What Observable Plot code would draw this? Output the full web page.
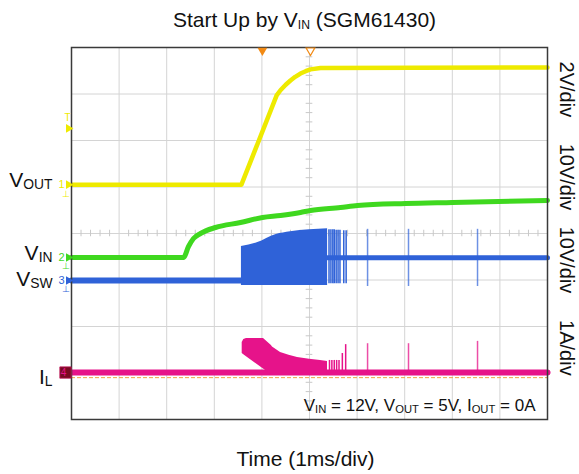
<!DOCTYPE html>
<html>
<head>
<meta charset="utf-8">
<script src="https://cdn.jsdelivr.net/npm/d3@7"></script>
<script src="https://cdn.jsdelivr.net/npm/@observablehq/plot@0.6"></script>
<style>
  html, body { margin: 0; padding: 0; background: #ffffff; }
  #chart { width: 579px; height: 474px; }
</style>
</head>
<body>
<div id="chart"></div>
<script>
// ---------- Grid (divisions) ----------
const xGrid = [1, 2, 3, 4, 5, 6, 7, 8, 9];
const yGrid = [1, 2, 3, 4, 5, 6, 7];
const xMinor = [0.2,0.4,0.6,0.8,1.2,1.4,1.6,1.8,2.2,2.4,2.6,2.8,3.2,3.4,3.6,3.8,4.2,4.4,4.6,4.8,5.2,5.4,5.6,5.8,6.2,6.4,6.6,6.8,7.2,7.4,7.6,7.8,8.2,8.4,8.6,8.8,9.2,9.4,9.6,9.8];
const yMinor = [0.2,0.4,0.6,0.8,1.2,1.4,1.6,1.8,2.2,2.4,2.6,2.8,3.2,3.4,3.6,3.8,4.2,4.4,4.6,4.8,5.2,5.4,5.6,5.8,6.2,6.4,6.6,6.8,7.2,7.4,7.6,7.8];

// ---------- VOUT (yellow, 2V/div) ----------
const voutT = [0, 3.57, 4.31, 4.39, 4.50, 4.60, 4.70, 4.81, 4.92, 5.02, 5.23, 10];
const voutV = [5.05, 5.05, 6.97, 7.08, 7.20, 7.29, 7.37, 7.44, 7.49, 7.53, 7.56, 7.57];

// ---------- VIN (green, 10V/div) ----------
const vinT = [0, 2.353, 2.458, 2.563, 2.710, 3.025, 3.550, 4.013, 4.391, 4.811, 5.021, 5.651, 6.008, 7.017, 8.004, 10];
const vinV = [3.484, 3.484, 3.720, 3.892, 4.000, 4.129, 4.237, 4.344, 4.387, 4.452, 4.495, 4.559, 4.602, 4.645, 4.667, 4.710];

// ---------- VSW (blue, 10V/div) ----------
const swBaseT = [0, 3.57];
const swBaseV = [2.99, 2.99];
const swBandT = [3.57, 3.9, 4.3, 4.6, 5.0, 5.38];
const swBandLow = [2.88, 2.88, 2.88, 2.88, 2.88, 2.88];
const swBandTop = [3.72, 3.80, 3.98, 4.04, 4.08, 4.10];
const swSteadyT = [5.38, 10];
const swSteadyV = [3.48, 3.48];
const swBurstT = [5.41, 5.45, 5.49, 5.52, 5.56, 5.60, 5.64, 5.72, 5.77];
const swBurstLow = [2.92, 2.92, 2.92, 2.92, 2.92, 2.92, 2.92, 2.92, 2.92];
const swBurstTop = [4.08, 4.08, 4.08, 4.08, 4.07, 4.07, 4.07, 4.06, 4.06];
const swSpikeT = [6.22, 7.08, 8.53];
const swSpikeLow = [2.86, 2.86, 2.86];
const swSpikeTop = [4.09, 4.09, 4.09];

// ---------- IL (magenta, 1A/div) ----------
const ilBaseT = [0, 10];
const ilBaseV = [1.01, 1.01];
const ilBandT = [3.586, 3.62, 3.676, 4.034, 4.20, 4.222, 4.391, 4.57, 4.748, 5.0, 5.231, 5.378];
const ilBandLow = [1.419, 1.394, 1.352, 1.086, 0.962, 0.95, 0.95, 0.95, 0.95, 0.95, 0.95, 0.95];
const ilBandTop = [1.656, 1.72, 1.742, 1.742, 1.59, 1.56, 1.441, 1.38, 1.333, 1.295, 1.269, 1.247];
const ilBurstT = [5.42, 5.47, 5.52, 5.57, 5.62, 5.69, 5.76];
const ilBurstTop = [1.27, 1.27, 1.27, 1.27, 1.27, 1.42, 1.61];
const ilSpikeT = [6.22, 7.08, 8.53];
const ilSpikeTop = [1.63, 1.63, 1.68];
const ilZero = [0.90];

// ---------- Labels ----------
const chLabels = ["V_{OUT}", "V_{IN}", "V_{SW}", "I_{L}"];
const chLabelY = [4.99, 3.44, 2.88, 0.774];
const chColors = ["#eeea00", "#3fd81f", "#2f62d8", "#e6138a"];
const chMarkNum = ["1", "2", "3"];
const chMarkY = [5.05, 3.484, 2.99];
const scaleLabels = ["2V/div", "10V/div", "10V/div", "1A/div"];
const scaleLabelY = [7.10, 5.215, 3.43, 1.54];
const trigT = [4.01, 5.02];
const titleText = ["Start Up by V_{IN} (SGM61430)"];
const xLabel = ["Time (1ms/div)"];
const note = ["V_{IN} = 12V, V_{OUT} = 5V, I_{OUT} = 0A"];

const FONT = "'Liberation Sans', Arial, Helvetica, sans-serif";
const YEL = "#eeea00", GRN = "#3fd81f", BLU = "#2f62d8", PNK = "#e6138a";

const chart = Plot.plot({
  width: 579,
  height: 474,
  marginLeft: 71,
  marginRight: 32,
  marginTop: 47,
  marginBottom: 55,
  x: {domain: [0, 10], axis: null},
  y: {domain: [0, 8], axis: null},
  style: {fontFamily: FONT, background: "#ffffff", overflow: "visible"},
  marks: [
    // grid
    Plot.ruleX(xGrid, {stroke: "#d4d4d4", strokeWidth: 1}),
    Plot.ruleY(yGrid, {stroke: "#d4d4d4", strokeWidth: 1}),
    Plot.ruleY(yMinor, {y: d => d, x1: 4.93, x2: 5.07, stroke: "#c8c8c8", strokeWidth: 1}),
    Plot.ruleX(xMinor, {x: d => d, y1: 3.93, y2: 4.07, stroke: "#c8c8c8", strokeWidth: 1}),
    // IL zero reference
    Plot.ruleY(ilZero, {stroke: "#f2a446", strokeWidth: 1, strokeDasharray: "4,2"}),
    // VIN
    Plot.lineY(vinV, {x: vinT, stroke: GRN, strokeWidth: 5, curve: "monotone-x"}),
    // VSW
    Plot.lineY(swBaseV, {x: swBaseT, stroke: BLU, strokeWidth: 6}),
    Plot.areaY(swBandT, {x: swBandT, y1: swBandLow, y2: swBandTop, fill: BLU, curve: "monotone-x"}),
    Plot.lineY(swSteadyV, {x: swSteadyT, stroke: BLU, strokeWidth: 5}),
    Plot.ruleX(swBurstT, {x: swBurstT, y1: swBurstLow, y2: swBurstTop, stroke: BLU, strokeWidth: 1.5}),
    Plot.ruleX(swSpikeT, {x: swSpikeT, y1: swSpikeLow, y2: swSpikeTop, stroke: BLU, strokeWidth: 1.5, strokeOpacity: 0.7}),
    // IL
    Plot.lineY(ilBaseV, {x: ilBaseT, stroke: PNK, strokeWidth: 6}),
    Plot.areaY(ilBandT, {x: ilBandT, y1: ilBandLow, y2: ilBandTop, fill: PNK, curve: "linear"}),
    Plot.ruleX(ilBurstT, {x: ilBurstT, y1: 1.0, y2: ilBurstTop, stroke: PNK, strokeWidth: 1.5}),
    Plot.ruleX(ilSpikeT, {x: ilSpikeT, y1: 1.0, y2: ilSpikeTop, stroke: PNK, strokeWidth: 1.5, strokeOpacity: 0.75}),
    // VOUT
    Plot.lineY(voutV, {x: voutT, stroke: YEL, strokeWidth: 4.5, curve: "linear"}),
    // frame
    Plot.frame({stroke: "#3a3a3a", strokeWidth: 1.5}),
    // trigger markers at top
    Plot.dot([trigT[0]], {x: d => d, y: 8, symbol: "triangle", rotate: 180, r: 3.6, fill: "#f28a14", stroke: "none", dy: 3}),
    Plot.dot([trigT[1]], {x: d => d, y: 8, symbol: "triangle", rotate: 180, r: 3.2, fill: "white", stroke: "#f28a14", strokeWidth: 1.2, dy: 3}),
    // trigger level marker (yellow)
    Plot.dot([6.26], {x: 0, y: d => d, symbol: "triangle", rotate: 90, r: 3.2, fill: YEL, stroke: "none", dx: -3}),
    Plot.text([6.26], {x: 0, y: d => d, text: () => "T", dx: -4, dy: -11, fill: YEL, fontSize: 10}),
    // channel ground markers
    Plot.dot(chMarkY, {x: 0, y: d => d, symbol: "triangle", rotate: 90, r: 3.2, fill: (d, i) => chColors[i], stroke: "none", dx: -3}),
    Plot.text(chMarkY, {x: 0, y: d => d, text: (d, i) => chMarkNum[i], fill: (d, i) => chColors[i], dx: -10, dy: 0, fontSize: 11}),
    Plot.text(chMarkY, {x: 0, y: d => d, text: () => "⊥", fill: (d, i) => chColors[i], dx: -6, dy: 9, fontSize: 9}),
    Plot.dot([1.01], {x: 0, y: d => d, symbol: "square", r: 6.4, fill: "#7a0a22", stroke: "#c2185b", strokeWidth: 0.8, dx: -6}),
    Plot.text([1.01], {x: 0, y: d => d, text: () => "4", fill: PNK, dx: -8, fontSize: 10}),
    // channel labels (left)
    Plot.text(chLabels, {x: 0, y: (d, i) => chLabelY[i], text: d => d, textAnchor: "end", lineAnchor: "bottom", dx: -19, fontSize: 21, fill: "#111"}),
    // scale labels (right, rotated)
    Plot.text(scaleLabels, {x: 10, y: (d, i) => scaleLabelY[i], text: d => d, rotate: 90, textAnchor: "middle", lineAnchor: "middle", dx: 19, fontSize: 20, fill: "#111"}),
    // title
    Plot.text(titleText, {frameAnchor: "top", text: d => d, lineAnchor: "bottom", dy: -21, dx: -5, fontSize: 21, fill: "#111"}),
    // x label
    Plot.text(xLabel, {frameAnchor: "bottom", text: d => d, lineAnchor: "bottom", dy: 46, dx: -4, fontSize: 21, fill: "#111"}),
    // condition note
    Plot.text(note, {frameAnchor: "bottom-right", text: d => d, textAnchor: "end", lineAnchor: "bottom", dx: -12, dy: -9, fontSize: 17, fill: "#111"})
  ]
});

// subscript post-processing
function applySubscripts(svg) {
  svg.querySelectorAll("text").forEach(t => {
    const s = t.textContent;
    if (!s.includes("_{")) return;
    const isTitle = s.startsWith("Start");
    const ratio = isTitle ? 0.58 : 0.66;
    const shift = 2;
    const parts = s.split(/(_\{[^}]*\})/);
    while (t.firstChild) t.removeChild(t.firstChild);
    let prevSub = false;
    parts.forEach(p => {
      if (!p) return;
      const ts = document.createElementNS("http://www.w3.org/2000/svg", "tspan");
      if (p.startsWith("_{")) {
        ts.textContent = p.slice(2, -1);
        ts.setAttribute("font-size", ratio + "em");
        ts.setAttribute("dy", shift);
        prevSub = true;
      } else {
        ts.textContent = p;
        if (prevSub) ts.setAttribute("dy", -shift);
        prevSub = false;
      }
      t.appendChild(ts);
    });
  });
}
applySubscripts(chart);
document.getElementById("chart").appendChild(chart);
</script>
</body>
</html>
